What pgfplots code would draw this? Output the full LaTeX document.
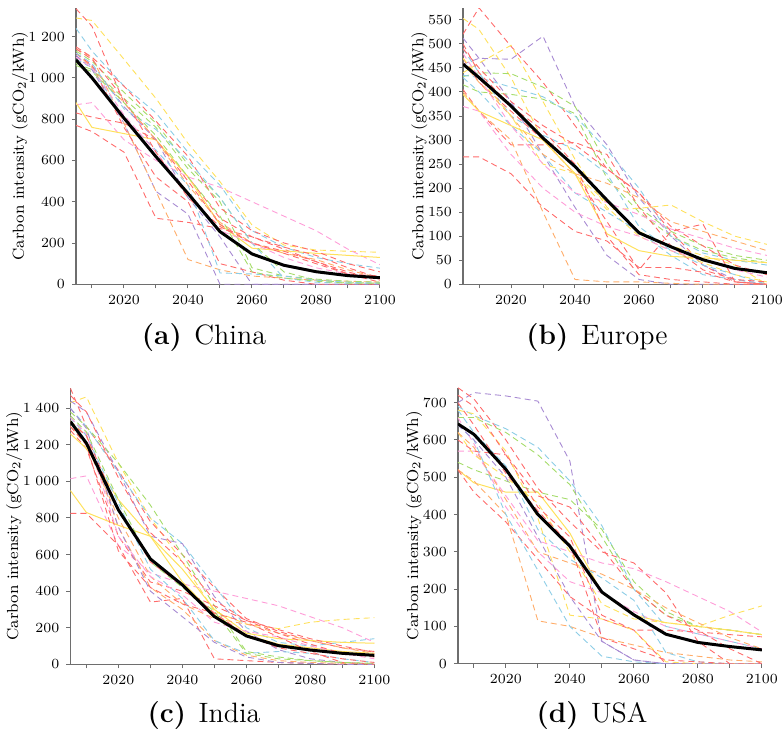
\documentclass[border=0pt]{standalone}
\usepackage{pgfplots}
\pgfplotsset{compat=1.18}
\definecolor{cR}{HTML}{FF6B6B}
\definecolor{cY}{HTML}{FFE15C}
\definecolor{cG}{HTML}{A5DC6A}
\definecolor{cB}{HTML}{8CCDE6}
\definecolor{cP}{HTML}{A88BD3}
\definecolor{cK}{HTML}{FF9DD8}
\definecolor{cO}{HTML}{FFAD6A}
\definecolor{axgray}{HTML}{6E6E6E}
\pgfplotsset{
  panel/.style={
    scale only axis, width=152pt, height=138pt,
    xmin=2005, xmax=2100, ymin=0,
    axis x line=bottom, axis y line=left,
    axis line style={-, draw=axgray, line width=0.6pt},
    tick style={draw=axgray, line width=0.5pt},
    tick align=outside, major tick length=2pt, minor tick length=2pt,
    xtick={2020,2040,...,2100}, minor xtick={2010,2030,...,2090},
    ticklabel style={font=\fontsize{7}{8}\selectfont},
    /pgf/number format/1000 sep={\;},
    scaled y ticks=false,
    xticklabel style={/pgf/number format/1000 sep={}},
    ylabel={Carbon intensity (gCO$_2$/kWh)},
    ylabel style={font=\fontsize{8}{9}\selectfont},
    ylabel shift=-6.5pt,
  },
  sc/.style={dash pattern=on 3pt off 2pt, line width=0.45pt},
  sl/.style={solid, line width=0.5pt},
  med/.style={black, line width=1.5pt, solid, line join=round},
}
\begin{document}
\begin{tikzpicture}
\useasboundingbox (0,0) rectangle (391pt,367pt);
% ---------------- China
\begin{axis}[panel, at={(38pt,224.85pt)}, anchor=south west, ymax=1337, ytick={0,200,...,1200}]
\addplot[sc,cY] coordinates {(2005,1290)(2010,1278)(2020,1090)(2030,900)(2040,683)(2050,497)(2060,287)(2070,190)(2080,166)(2090,160)(2100,155)};
\addplot[sc,cR] coordinates {(2005,1335)(2010,1250)(2020,880)(2030,700)(2040,520)(2050,320)(2060,230)(2070,170)(2080,110)(2090,50)(2100,10)};
\addplot[sc,cB] coordinates {(2005,1240)(2010,1130)(2020,960)(2030,830)(2040,640)(2050,480)(2060,260)(2070,180)(2080,130)(2090,100)(2100,78)};
\addplot[sc,cK] coordinates {(2005,870)(2010,880)(2020,700)(2030,600)(2040,520)(2050,470)(2060,400)(2070,330)(2080,260)(2090,170)(2100,95)};
\addplot[sl,cY] coordinates {(2005,880)(2010,760)(2020,730)(2030,700)(2040,520)(2050,290)(2060,175)(2070,162)(2080,150)(2090,140)(2100,130)};
\addplot[sc,cR] coordinates {(2005,830)(2010,810)(2020,780)(2030,700)(2040,500)(2050,290)(2060,200)(2070,160)(2080,110)(2090,60)(2100,20)};
\addplot[sc,cR] coordinates {(2005,770)(2010,740)(2020,640)(2030,320)(2040,300)(2050,270)(2060,230)(2070,180)(2080,140)(2090,80)(2100,30)};
\addplot[sc,cP] coordinates {(2005,1110)(2010,1040)(2020,780)(2030,450)(2040,340)(2050,0)(2060,0)(2070,0)(2080,0)(2090,0)(2100,0)};
\addplot[sc,cP] coordinates {(2005,1100)(2010,1060)(2020,860)(2030,700)(2040,420)(2050,230)(2060,0)(2070,0)(2080,0)(2090,0)(2100,0)};
\addplot[sc,cO] coordinates {(2005,1140)(2010,1100)(2020,780)(2030,450)(2040,120)(2050,70)(2060,40)(2070,30)(2080,20)(2090,15)(2100,10)};
\addplot[sc,cO] coordinates {(2005,1120)(2010,1050)(2020,880)(2030,700)(2040,480)(2050,300)(2060,200)(2070,150)(2080,120)(2090,70)(2100,30)};
\addplot[sc,cG] coordinates {(2005,1070)(2010,1040)(2020,900)(2030,760)(2040,560)(2050,400)(2060,80)(2070,40)(2080,25)(2090,15)(2100,10)};
\addplot[sc,cG] coordinates {(2005,1130)(2010,1080)(2020,930)(2030,780)(2040,580)(2050,420)(2060,200)(2070,60)(2080,20)(2090,8)(2100,5)};
\addplot[sc,cR] coordinates {(2005,1150)(2010,1100)(2020,960)(2030,790)(2040,620)(2050,370)(2060,260)(2070,200)(2080,160)(2090,100)(2100,60)};
\addplot[sc,cR] coordinates {(2005,1120)(2010,1060)(2020,760)(2030,520)(2040,400)(2050,100)(2060,60)(2070,20)(2080,0)(2090,0)(2100,0)};
\addplot[sc,cB] coordinates {(2005,1090)(2010,1050)(2020,800)(2030,650)(2040,480)(2050,55)(2060,50)(2070,40)(2080,20)(2090,10)(2100,5)};
\addplot[sc,cB] coordinates {(2005,1120)(2010,1070)(2020,850)(2030,750)(2040,600)(2050,420)(2060,200)(2070,30)(2080,10)(2090,5)(2100,5)};
\addplot[sc,cK] coordinates {(2005,1100)(2010,1050)(2020,820)(2030,640)(2040,440)(2050,260)(2060,200)(2070,130)(2080,80)(2090,50)(2100,30)};
\addplot[sc,cR] coordinates {(2005,1140)(2010,1090)(2020,900)(2030,640)(2040,420)(2050,280)(2060,200)(2070,150)(2080,100)(2090,50)(2100,40)};
\addplot[sc,cG] coordinates {(2005,1060)(2010,1030)(2020,880)(2030,720)(2040,520)(2050,330)(2060,60)(2070,30)(2080,15)(2090,5)(2100,5)};
\addplot[med] coordinates {(2005,1087)(2010,1000)(2020,805)(2030,618)(2040,440)(2050,255)(2060,147)(2070,92)(2080,61)(2090,42)(2100,32)};
\end{axis}
\node[font=\fontsize{14}{16}\selectfont, anchor=base] at (102pt,194.85pt) {\textbf{(a)}\hspace{0.45em}China};
% ---------------- Europe
\begin{axis}[panel, at={(231.5pt,224.85pt)}, anchor=south west, ymax=574, ytick={0,50,...,550}]
\addplot[sc,cR] coordinates {(2005,520)(2010,575)(2020,495)(2030,420)(2040,330)(2050,240)(2060,190)(2070,110)(2080,40)(2090,5)(2100,0)};
\addplot[sc,cY] coordinates {(2005,553)(2010,530)(2020,430)(2030,300)(2040,230)(2050,170)(2060,110)(2070,80)(2080,60)(2090,40)(2100,0)};
\addplot[sc,cP] coordinates {(2005,458)(2010,470)(2020,468)(2030,516)(2040,370)(2050,290)(2060,180)(2070,100)(2080,40)(2090,10)(2100,0)};
\addplot[sc,cP] coordinates {(2005,512)(2010,470)(2020,380)(2030,270)(2040,160)(2050,60)(2060,10)(2070,0)(2080,0)(2090,0)(2100,0)};
\addplot[sc,cY] coordinates {(2005,440)(2010,460)(2020,497)(2030,380)(2040,260)(2050,160)(2060,100)(2070,70)(2080,45)(2090,20)(2100,5)};
\addplot[sc,cG] coordinates {(2005,432)(2010,440)(2020,438)(2030,410)(2040,370)(2050,250)(2060,160)(2070,110)(2080,80)(2090,60)(2100,50)};
\addplot[sc,cG] coordinates {(2005,415)(2010,400)(2020,395)(2030,385)(2040,355)(2050,220)(2060,150)(2070,100)(2080,70)(2090,55)(2100,45)};
\addplot[sc,cB] coordinates {(2005,435)(2010,430)(2020,410)(2030,390)(2040,350)(2050,280)(2060,200)(2070,100)(2080,65)(2090,50)(2100,40)};
\addplot[sc,cB] coordinates {(2005,490)(2010,440)(2020,350)(2030,310)(2040,280)(2050,230)(2060,120)(2070,70)(2080,40)(2090,20)(2100,0)};
\addplot[sc,cB] coordinates {(2005,430)(2010,400)(2020,330)(2030,270)(2040,190)(2050,150)(2060,110)(2070,60)(2080,20)(2090,10)(2100,0)};
\addplot[sc,cR] coordinates {(2005,490)(2010,450)(2020,380)(2030,330)(2040,290)(2050,240)(2060,190)(2070,120)(2080,80)(2090,40)(2100,20)};
\addplot[sc,cR] coordinates {(2005,405)(2010,360)(2020,290)(2030,290)(2040,295)(2050,270)(2060,160)(2070,80)(2080,30)(2090,10)(2100,5)};
\addplot[sc,cR] coordinates {(2005,265)(2010,265)(2020,230)(2030,160)(2040,110)(2050,90)(2060,35)(2070,35)(2080,25)(2090,5)(2100,0)};
\addplot[sc,cR] coordinates {(2005,470)(2010,420)(2020,360)(2030,300)(2040,230)(2050,130)(2060,30)(2070,110)(2080,125)(2090,5)(2100,0)};
\addplot[sc,cO] coordinates {(2005,400)(2010,360)(2020,300)(2030,150)(2040,10)(2050,5)(2060,5)(2070,2)(2080,0)(2090,0)(2100,0)};
\addplot[sc,cO] coordinates {(2005,460)(2010,420)(2020,350)(2030,270)(2040,230)(2050,210)(2060,180)(2070,130)(2080,110)(2090,90)(2100,70)};
\addplot[sc,cY] coordinates {(2005,470)(2010,430)(2020,350)(2030,250)(2040,230)(2050,155)(2060,158)(2070,165)(2080,130)(2090,100)(2100,83)};
\addplot[sl,cY] coordinates {(2005,395)(2010,360)(2020,330)(2030,300)(2040,230)(2050,105)(2060,70)(2070,58)(2080,55)(2090,50)(2100,45)};
\addplot[sc,cK] coordinates {(2005,370)(2010,360)(2020,270)(2030,200)(2040,150)(2050,120)(2060,100)(2070,70)(2080,50)(2090,30)(2100,15)};
\addplot[sc,cK] coordinates {(2005,480)(2010,430)(2020,330)(2030,250)(2040,190)(2050,170)(2060,145)(2070,115)(2080,95)(2090,75)(2100,60)};
\addplot[sc,cR] coordinates {(2005,500)(2010,440)(2020,370)(2030,320)(2040,250)(2050,100)(2060,20)(2070,10)(2080,5)(2090,0)(2100,0)};
\addplot[med] coordinates {(2005,458)(2010,430)(2020,371)(2030,304)(2040,245)(2050,175)(2060,107)(2070,78)(2080,51)(2090,33)(2100,24)};
\end{axis}
\node[font=\fontsize{14}{16}\selectfont, anchor=base] at (298.5pt,194.85pt) {\textbf{(b)}\hspace{0.45em}Europe};
% ---------------- India
\begin{axis}[panel, at={(35.2pt,34.85pt)}, anchor=south west, ymax=1509, ytick={0,200,...,1400}]
\addplot[sc,cY] coordinates {(2005,1430)(2010,1462)(2020,1100)(2030,800)(2040,560)(2050,290)(2060,220)(2070,195)(2080,230)(2090,245)(2100,255)};
\addplot[sc,cR] coordinates {(2005,1510)(2010,1300)(2020,1060)(2030,780)(2040,600)(2050,420)(2060,250)(2070,180)(2080,130)(2090,90)(2100,70)};
\addplot[sc,cP] coordinates {(2005,1440)(2010,1380)(2020,1050)(2030,700)(2040,660)(2050,370)(2060,180)(2070,80)(2080,30)(2090,10)(2100,0)};
\addplot[sc,cB] coordinates {(2005,1400)(2010,1300)(2020,1050)(2030,800)(2040,660)(2050,430)(2060,200)(2070,120)(2080,100)(2090,120)(2100,140)};
\addplot[sc,cG] coordinates {(2005,1380)(2010,1300)(2020,1100)(2030,870)(2040,600)(2050,320)(2060,70)(2070,40)(2080,20)(2090,10)(2100,5)};
\addplot[sc,cK] coordinates {(2005,1015)(2010,1030)(2020,650)(2030,500)(2040,440)(2050,400)(2060,360)(2070,320)(2080,260)(2090,200)(2100,120)};
\addplot[sl,cY] coordinates {(2005,950)(2010,830)(2020,760)(2030,700)(2040,520)(2050,300)(2060,170)(2070,140)(2080,130)(2090,120)(2100,115)};
\addplot[sc,cR] coordinates {(2005,825)(2010,825)(2020,650)(2030,340)(2040,360)(2050,30)(2060,20)(2070,10)(2080,5)(2090,0)(2100,0)};
\addplot[sc,cR] coordinates {(2005,1280)(2010,1180)(2020,700)(2030,450)(2040,400)(2050,320)(2060,240)(2070,190)(2080,140)(2090,100)(2100,65)};
\addplot[sl,cY] coordinates {(2005,1260)(2010,1180)(2020,900)(2030,700)(2040,450)(2050,270)(2060,160)(2070,110)(2080,90)(2090,70)(2100,60)};
\addplot[sc,cO] coordinates {(2005,1300)(2010,1200)(2020,800)(2030,480)(2040,330)(2050,250)(2060,220)(2070,170)(2080,130)(2090,90)(2100,60)};
\addplot[sc,cO] coordinates {(2005,1330)(2010,1250)(2020,750)(2030,420)(2040,300)(2050,130)(2060,50)(2070,20)(2080,10)(2090,5)(2100,0)};
\addplot[sc,cP] coordinates {(2005,1400)(2010,1290)(2020,750)(2030,400)(2040,260)(2050,120)(2060,40)(2070,10)(2080,5)(2090,0)(2100,0)};
\addplot[sc,cB] coordinates {(2005,1350)(2010,1250)(2020,880)(2030,520)(2040,360)(2050,130)(2060,60)(2070,70)(2080,60)(2090,30)(2100,10)};
\addplot[sc,cK] coordinates {(2005,1350)(2010,1260)(2020,700)(2030,480)(2040,380)(2050,230)(2060,180)(2070,150)(2080,100)(2090,60)(2100,30)};
\addplot[sc,cR] coordinates {(2005,1470)(2010,1380)(2020,1020)(2030,720)(2040,560)(2050,350)(2060,240)(2070,170)(2080,110)(2090,60)(2100,40)};
\addplot[sc,cR] coordinates {(2005,1300)(2010,1200)(2020,620)(2030,420)(2040,330)(2050,280)(2060,230)(2070,150)(2080,70)(2090,10)(2100,0)};
\addplot[sc,cG] coordinates {(2005,1360)(2010,1270)(2020,900)(2030,560)(2040,420)(2050,290)(2060,60)(2070,30)(2080,20)(2090,10)(2100,5)};
\addplot[sc,cR] coordinates {(2005,1320)(2010,1250)(2020,850)(2030,560)(2040,430)(2050,280)(2060,160)(2070,90)(2080,60)(2090,30)(2100,10)};
\addplot[med] coordinates {(2005,1327)(2010,1209)(2020,844)(2030,576)(2040,434)(2050,261)(2060,155)(2070,102)(2080,78)(2090,60)(2100,49)};
\end{axis}
\node[font=\fontsize{14}{16}\selectfont, anchor=base] at (102pt,5.5pt) {\textbf{(c)}\hspace{0.45em}India};
% ---------------- USA
\begin{axis}[panel, at={(228.95pt,35.15pt)}, anchor=south west, ymax=740, ytick={0,100,...,700}]
\addplot[sc,cP] coordinates {(2005,700)(2010,727)(2020,718)(2030,704)(2040,543)(2050,60)(2060,10)(2070,0)(2080,0)(2090,0)(2100,0)};
\addplot[sc,cR] coordinates {(2005,740)(2010,710)(2020,600)(2030,470)(2040,380)(2050,300)(2060,270)(2070,190)(2080,60)(2090,0)(2100,0)};
\addplot[sc,cB] coordinates {(2005,690)(2010,665)(2020,630)(2030,580)(2040,490)(2050,370)(2060,200)(2070,100)(2080,80)(2090,60)(2100,40)};
\addplot[sc,cG] coordinates {(2005,660)(2010,660)(2020,620)(2030,560)(2040,480)(2050,340)(2060,200)(2070,130)(2080,100)(2090,90)(2100,78)};
\addplot[sc,cG] coordinates {(2005,540)(2010,520)(2020,490)(2030,460)(2040,440)(2050,360)(2060,220)(2070,140)(2080,100)(2090,90)(2100,78)};
\addplot[sl,cY] coordinates {(2005,520)(2010,485)(2020,460)(2030,460)(2040,350)(2050,190)(2060,130)(2070,110)(2080,100)(2090,90)(2100,78)};
\addplot[sc,cO] coordinates {(2005,520)(2010,490)(2020,400)(2030,115)(2040,100)(2050,70)(2060,50)(2070,30)(2080,20)(2090,10)(2100,5)};
\addplot[sc,cK] coordinates {(2005,570)(2010,570)(2020,450)(2030,330)(2040,300)(2050,270)(2060,255)(2070,220)(2080,180)(2090,140)(2100,85)};
\addplot[sc,cK] coordinates {(2005,660)(2010,590)(2020,420)(2030,300)(2040,220)(2050,190)(2060,140)(2070,100)(2080,80)(2090,60)(2100,40)};
\addplot[sc,cY] coordinates {(2005,620)(2010,560)(2020,500)(2030,430)(2040,300)(2050,160)(2060,120)(2070,110)(2080,100)(2090,130)(2100,155)};
\addplot[sc,cR] coordinates {(2005,600)(2010,570)(2020,560)(2030,420)(2040,340)(2050,130)(2060,90)(2070,90)(2080,85)(2090,78)(2100,72)};
\addplot[sc,cR] coordinates {(2005,520)(2010,460)(2020,380)(2030,280)(2040,180)(2050,120)(2060,90)(2070,0)(2080,0)(2090,0)(2100,0)};
\addplot[sc,cB] coordinates {(2005,640)(2010,600)(2020,400)(2030,250)(2040,100)(2050,20)(2060,5)(2070,0)(2080,0)(2090,0)(2100,0)};
\addplot[sc,cB] coordinates {(2005,680)(2010,620)(2020,530)(2030,360)(2040,280)(2050,230)(2060,170)(2070,30)(2080,5)(2090,0)(2100,0)};
\addplot[sc,cY] coordinates {(2005,680)(2010,670)(2020,570)(2030,390)(2040,130)(2050,120)(2060,90)(2070,5)(2080,0)(2090,0)(2100,0)};
\addplot[sc,cR] coordinates {(2005,720)(2010,690)(2020,560)(2030,450)(2040,420)(2050,310)(2060,200)(2070,130)(2080,90)(2090,40)(2100,0)};
\addplot[sc,cO] coordinates {(2005,620)(2010,580)(2020,440)(2030,300)(2040,270)(2050,240)(2060,200)(2070,150)(2080,110)(2090,70)(2100,40)};
\addplot[sc,cP] coordinates {(2005,640)(2010,600)(2020,500)(2030,340)(2040,180)(2050,60)(2060,10)(2070,0)(2080,0)(2090,0)(2100,0)};
\addplot[sc,cR] coordinates {(2005,700)(2010,640)(2020,510)(2030,410)(2040,320)(2050,70)(2060,40)(2070,10)(2080,5)(2090,0)(2100,0)};
\addplot[med] coordinates {(2005,643)(2010,615)(2020,521)(2030,400)(2040,315)(2050,192)(2060,131)(2070,79)(2080,57)(2090,46)(2100,37)};
\end{axis}
\node[font=\fontsize{14}{16}\selectfont, anchor=base] at (296pt,5.5pt) {\textbf{(d)}\hspace{0.45em}USA};
\end{tikzpicture}
\end{document}
